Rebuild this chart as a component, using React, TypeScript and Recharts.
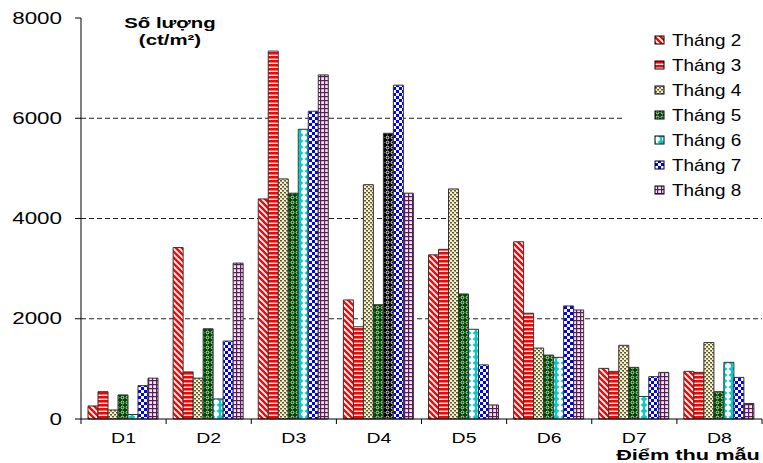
import React from 'react';
import { BarChart, Bar, XAxis, YAxis, CartesianGrid, Legend, Cell, Label } from 'recharts';

const categories = ['D1', 'D2', 'D3', 'D4', 'D5', 'D6', 'D7', 'D8'];
const thang2 = [260, 3420, 4390, 2375, 3275, 3535, 1010, 950];
const thang3 = [545, 940, 7340, 1840, 3385, 2110, 950, 930];
const thang4 = [180, 815, 4790, 4675, 4590, 1415, 1470, 1525];
const thang5 = [480, 1800, 4505, 2280, 2495, 1275, 1030, 545];
const thang6 = [90, 400, 5780, 5700, 1790, 1230, 450, 1130];
const thang7 = [665, 1555, 6140, 6660, 1080, 2255, 845, 830];
const thang8 = [815, 3110, 6865, 4505, 280, 2175, 930, 310];
const seriesNames = ['Tháng 2', 'Tháng 3', 'Tháng 4', 'Tháng 5', 'Tháng 6', 'Tháng 7', 'Tháng 8'];
const yTicks = [0, 2000, 4000, 6000, 8000];
const gridValues = [2000, 4000, 6000];
const yTitle = ['Số lượng', '(ct/m²)'];
const xTitle = 'Điểm thu mẫu';

const seriesValues = [thang2, thang3, thang4, thang5, thang6, thang7, thang8];
const data = categories.map((c, i) => {
  const row: any = { cat: c };
  seriesNames.forEach((s, k) => { row[s] = seriesValues[k][i]; });
  return row;
});

const patternIds = ['p2', 'p3', 'p4', 'p5', 'p6', 'p7', 'p8'];
const SPECIAL = { series: 'Tháng 6', cat: 'D4', pattern: 'p6b' };

const W = 763, H = 463;
const M = { top: 18, right: 1, bottom: 14, left: 0 };
const YW = 81;
const XH = 30;
const PLOT_W = W - M.left - M.right - YW;
const BAND = PLOT_W / categories.length;
const FONT = '"Liberation Sans", Arial, sans-serif';

const Patterns = () => (
  <defs>
    <pattern id="p2" patternUnits="userSpaceOnUse" width="6" height="6">
      <rect width="6" height="6" fill="#fff" />
      <path d="M-1,-1 L7,7 M-1,5 L1,7 M5,-1 L7,1" stroke="#ff0000" strokeWidth="2.3" />
    </pattern>
    <pattern id="p3" patternUnits="userSpaceOnUse" width="4" height="4">
      <rect width="4" height="4" fill="#fff" />
      <rect width="4" height="2.6" fill="#ff0000" />
    </pattern>
    <pattern id="p4" patternUnits="userSpaceOnUse" width="4" height="4">
      <rect width="4" height="4" fill="#f4f0dc" />
      <rect x="0" y="0" width="2" height="1.5" fill="#5f5a22" />
      <rect x="2" y="2" width="2" height="1.5" fill="#5f5a22" />
      <rect x="1" y="1" width="1" height="1" fill="#9a9260" />
      <rect x="3" y="3" width="1" height="1" fill="#9a9260" />
    </pattern>
    <pattern id="p5" patternUnits="userSpaceOnUse" width="5" height="5">
      <rect width="5" height="5" fill="#004800" />
      <circle cx="2.5" cy="2.5" r="1.4" fill="none" stroke="#d8ecd8" strokeWidth="0.9" />
    </pattern>
    <pattern id="p6" patternUnits="userSpaceOnUse" width="8" height="6">
      <rect width="8" height="6" fill="#fff" />
      <polygon points="0.5,3 4,0.3 7.5,3 4,5.7" fill="#00cccc" />
      <rect x="3" y="0" width="2" height="6" fill="#00cccc" />
    </pattern>
    <pattern id="p6b" patternUnits="userSpaceOnUse" width="5" height="5">
      <rect width="5" height="5" fill="#000" />
      <circle cx="2.5" cy="2.5" r="1.4" fill="none" stroke="#ffffff" strokeWidth="0.9" />
    </pattern>
    <pattern id="p7" patternUnits="userSpaceOnUse" width="6" height="6">
      <rect width="6" height="6" fill="#fff" />
      <rect x="0" y="0" width="3" height="3" fill="#0000ff" />
      <rect x="3" y="3" width="3" height="3" fill="#0000ff" />
    </pattern>
    <pattern id="p8" patternUnits="userSpaceOnUse" width="4" height="4">
      <rect width="4" height="4" fill="#f2e6f2" />
      <rect x="0" y="0" width="1.2" height="4" fill="#5c1a5c" />
      <rect x="0" y="0" width="4" height="1.2" fill="#5c1a5c" />
    </pattern>
  </defs>
);

const StretchText = ({ x, y, sx, anchor, size, bold, children }: any) => (
  <g transform={`translate(${x},${y}) scale(${sx},1)`}>
    <text x={0} y={0} textAnchor={anchor} fontSize={size} fontWeight={bold ? 'bold' : 'normal'} fontFamily={FONT} fill="#000">
      {children}
    </text>
  </g>
);

const YTick = (props: any) => {
  const { x, y, payload } = props;
  return <StretchText x={x} y={y + 5.5} sx={1.4} anchor="end" size={16}>{payload.value}</StretchText>;
};

const XTick = (props: any) => {
  const { x, y, payload, index } = props;
  const last = index === categories.length - 1;
  return (
    <g>
      <line x1={x - BAND / 2} x2={x - BAND / 2} y1={y} y2={y + 5} stroke="#000" />
      {last && <line x1={x + BAND / 2} x2={x + BAND / 2} y1={y} y2={y + 5} stroke="#000" />}
      <StretchText x={x} y={y + 24} sx={1.3} anchor="middle" size={15}>{payload.value}</StretchText>
    </g>
  );
};

const renderLegend = () => (
  <svg width={138} height={182} style={{ display: 'block', background: '#fff' }}>
    {seriesNames.map((s, i) => {
      const cy = 15 + 25 * i;
      return (
        <g key={s}>
          <rect x={30} y={cy - 4} width={9} height={8} fill={`url(#${patternIds[i]})`} stroke="#000" strokeWidth={1} />
          <StretchText x={47} y={cy + 6} sx={1.18} anchor="start" size={16}>{s}</StretchText>
        </g>
      );
    })}
  </svg>
);

export default function App() {
  return (
    <div style={{ position: 'absolute', left: 0, top: 0, width: W, height: H, background: '#fff' }}>
      <BarChart width={W} height={H} data={data} margin={M} barGap={0} barCategoryGap={7}>
        <Patterns />
        <CartesianGrid
          vertical={false}
          horizontalValues={gridValues}
          stroke="#222"
          strokeDasharray="5 3"
        />
        <XAxis
          dataKey="cat"
          height={XH}
          tickLine={false}
          tickSize={0}
          tickMargin={0}
          axisLine={{ stroke: '#000' }}
          tick={<XTick />}
          interval={0}
        >
          <Label
            content={() => (
              <StretchText x={688} y={460} sx={1.45} anchor="middle" size={15} bold>{xTitle}</StretchText>
            )}
          />
        </XAxis>
        <YAxis
          width={YW}
          domain={[0, 8000]}
          ticks={yTicks}
          tickSize={6}
          tickMargin={13}
          tickLine={{ stroke: '#000' }}
          axisLine={{ stroke: '#000' }}
          tick={<YTick />}
          interval={0}
        >
          <Label
            content={() => (
              <g>
                <StretchText x={170} y={28} sx={1.36} anchor="middle" size={15} bold>{yTitle[0]}</StretchText>
                <StretchText x={170} y={45} sx={1.36} anchor="middle" size={15} bold>{yTitle[1]}</StretchText>
              </g>
            )}
          />
        </YAxis>
        <Legend
          layout="vertical"
          align="center"
          verticalAlign="middle"
          content={renderLegend}
          wrapperStyle={{ position: 'absolute', left: 625, top: 25, width: 138, height: 182 }}
        />
        {seriesNames.map((s, k) => (
          <Bar
            key={s}
            dataKey={s}
            fill={`url(#${patternIds[k]})`}
            stroke="#333"
            strokeWidth={1}
            isAnimationActive={false}
          >
            {data.map((d) => (
              <Cell
                key={d.cat}
                fill={s === SPECIAL.series && d.cat === SPECIAL.cat ? `url(#${SPECIAL.pattern})` : `url(#${patternIds[k]})`}
              />
            ))}
          </Bar>
        ))}
      </BarChart>
    </div>
  );
}
